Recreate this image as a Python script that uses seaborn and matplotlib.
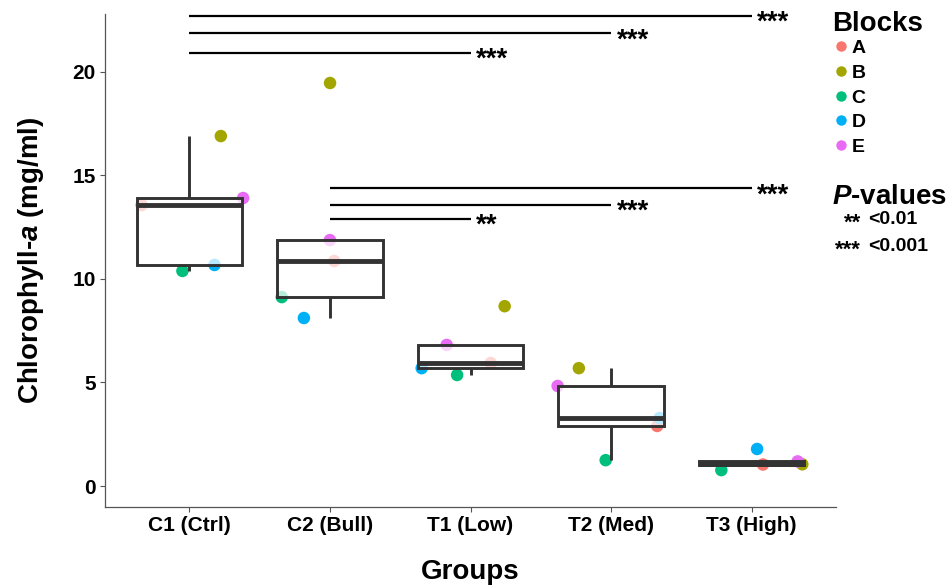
import numpy as np
import pandas as pd
import seaborn as sns
import matplotlib
matplotlib.use("Agg")
import matplotlib.pyplot as plt
from matplotlib.lines import Line2D

# ---------------- data ----------------
groups = ["C1 (Ctrl)", "C2 (Bull)", "T1 (Low)", "T2 (Med)", "T3 (High)"]
blocks = ["A", "B", "C", "D", "E"]
c1_ctrl = [13.56, 16.89, 10.38, 10.67, 13.90]
c2_bull = [10.86, 19.45, 9.12, 8.11, 11.87]
t1_low = [5.94, 8.68, 5.36, 5.69, 6.81]
t2_med = [2.90, 5.69, 1.25, 3.28, 4.83]
t3_high = [1.04, 1.05, 0.77, 1.79, 1.19]
block_colors = ["#F8766D", "#A3A500", "#00BF7D", "#00B0F6", "#E76BF3"]

comp_from = ["C1 (Ctrl)", "C1 (Ctrl)", "C1 (Ctrl)", "C2 (Bull)", "C2 (Bull)", "C2 (Bull)"]
comp_to = ["T3 (High)", "T2 (Med)", "T1 (Low)", "T3 (High)", "T2 (Med)", "T1 (Low)"]
comp_y = [22.68, 21.85, 20.91, 14.37, 13.56, 12.89]
comp_label = ["***", "***", "***", "***", "***", "**"]

pval_symbols = ["**", "***"]
pval_text = ["<0.01", "<0.001"]

values = [c1_ctrl, c2_bull, t1_low, t2_med, t3_high]
df = pd.DataFrame({
    "Group": np.repeat(groups, len(blocks)),
    "Block": blocks * len(groups),
    "Value": np.concatenate(values),
})
df["Group"] = pd.Categorical(df["Group"], categories=groups, ordered=True)

# ---------------- style ----------------
sns.set_theme(style="white")
plt.rcParams["font.family"] = ["Liberation Sans", "DejaVu Sans"]
plt.rcParams["font.weight"] = "bold"
plt.rcParams["text.color"] = "black"
plt.rcParams["axes.labelcolor"] = "black"
plt.rcParams["mathtext.fontset"] = "custom"
plt.rcParams["mathtext.rm"] = "Liberation Sans:bold"
plt.rcParams["mathtext.bf"] = "Liberation Sans:bold"
plt.rcParams["mathtext.it"] = "Liberation Sans:italic:bold"

fig = plt.figure(figsize=(9.49, 5.86), dpi=100)
ax = fig.add_axes([105 / 949, 1 - 507 / 586, 731 / 949, 493 / 586])

np.random.seed(7)
sns.stripplot(data=df, x="Group", y="Value", hue="Block", hue_order=blocks,
              palette=block_colors, size=9, jitter=0.4, linewidth=0,
              legend=False, zorder=1, ax=ax)

line_c = "#333333"
sns.boxplot(data=df, x="Group", y="Value", width=0.75, showfliers=False,
            showcaps=False, linewidth=2.1, linecolor=line_c, ax=ax,
            boxprops=dict(facecolor=(1, 1, 1, 0.72), edgecolor=line_c, zorder=3),
            medianprops=dict(color=line_c, linewidth=3.5, zorder=4),
            whiskerprops=dict(color=line_c, linewidth=2.1, zorder=3))

# significance bars
for g1, g2, yv, lab in zip(comp_from, comp_to, comp_y, comp_label):
    x1 = groups.index(g1)
    x2 = groups.index(g2)
    ax.plot([x1, x2], [yv, yv], color="black", lw=1.6, solid_capstyle="butt", zorder=5)
    ax.annotate(lab, xy=(x2, yv), xytext=(4, -5), textcoords="offset points",
                ha="left", va="center", fontsize=20, fontweight="bold", color="black")

ax.set_xlim(-0.6, 4.6)
ax.set_ylim(-1.01, 22.78)
ax.set_yticks([0, 5, 10, 15, 20])
ax.tick_params(axis="both", which="both", length=3.5, width=0.8, color="#555555",
               labelsize=15, labelcolor="black", pad=3, bottom=True, left=True)
for lab in ax.get_xticklabels() + ax.get_yticklabels():
    lab.set_fontweight("bold")
for side in ["top", "right"]:
    ax.spines[side].set_visible(False)
for side in ["left", "bottom"]:
    ax.spines[side].set_color("#555555")
    ax.spines[side].set_linewidth(0.9)

ax.set_xlabel("Groups", fontsize=20, fontweight="bold", labelpad=17, color="black")
ax.set_ylabel(r"Chlorophyll-$\mathit{a}$ (mg/ml)", fontsize=20, fontweight="bold",
              labelpad=19, color="black")

# legend
fig.text(832 / 949, 1 - 24 / 586, "Blocks", fontsize=20, fontweight="bold",
         va="center", ha="left")
handles = [Line2D([0], [0], marker="o", linestyle="", markersize=7.5,
                  markerfacecolor=c, markeredgewidth=0) for c in block_colors]
leg = fig.legend(handles, blocks, loc="upper left",
                 bbox_to_anchor=(831 / 949, 1 - 39.5 / 586), frameon=False,
                 prop=dict(size=14, weight="bold"), handletextpad=0.05,
                 handlelength=1.0, labelspacing=0.365, borderaxespad=0,
                 borderpad=0)
for t in leg.get_texts():
    t.set_color("black")

fig.text(832 / 949, 1 - 197 / 586, r"$\mathit{P}$-values", fontsize=20,
         fontweight="bold", va="center", ha="left")
ys = [220, 247]
for sym, txt, yy in zip(pval_symbols, pval_text, ys):
    fig.text(861 / 949, 1 - (yy + 3) / 586, sym, fontsize=16, fontweight="bold",
             va="center", ha="right")
    fig.text(868 / 949, 1 - yy / 586, txt, fontsize=14, fontweight="bold",
             va="center", ha="left")

fig.savefig("out.png", dpi=100)
